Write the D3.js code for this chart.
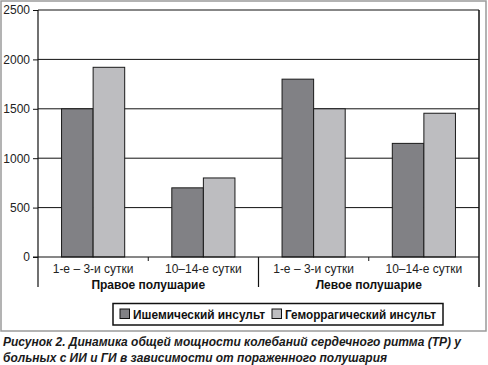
<!DOCTYPE html>
<html><head><meta charset="utf-8">
<script src="https://cdn.jsdelivr.net/npm/d3@7"></script>
<style>
body{margin:0;background:#fff;}
text{font-family:"Liberation Sans",Arial,sans-serif;}
</style></head>
<body><svg id="c" width="488" height="365"></svg>
<script>
const categories = ["1-е – 3-и сутки","10–14-е сутки","1-е – 3-и сутки","10–14-е сутки"];
const groups = ["Правое полушарие","Левое полушарие"];
const seriesNames = ["Ишемический инсульт","Геморрагический инсульт"];
const ischemic = [1500, 700, 1800, 1150];
const hemorrhagic = [1920, 800, 1500, 1455];
const yTicks = [0, 500, 1000, 1500, 2000, 2500];
const captionLines = ["Рисунок 2. Динамика общей мощности колебаний сердечного ритма (ТР) у",
                      "больных с ИИ и ГИ в зависимости от пораженного полушария"];

const colors = ["#818185", "#bdbdc0"];
const svg = d3.select("#c");
const L = 38, R = 479, T = 10, B = 257;

// outer border
svg.append("rect").attr("x",1).attr("y",1).attr("width",485).attr("height",330)
  .attr("fill","none").attr("stroke","#9a9a9a").attr("stroke-width",1.5);

const x0 = d3.scaleBand().domain(d3.range(categories.length)).range([L,R]).paddingInner(0).paddingOuter(0);
const x1 = d3.scaleBand().domain([0,1]).range([0,x0.bandwidth()]).paddingOuter(0.746).paddingInner(0);
const y = d3.scaleLinear().domain([0,2500]).range([B,T]);

// gridlines
svg.append("g").selectAll("line").data(yTicks.filter(d=>d>0)).join("line")
  .attr("x1",L).attr("x2",R).attr("y1",d=>y(d)).attr("y2",d=>y(d))
  .attr("stroke","#111").attr("stroke-width",1);
// right border
svg.append("line").attr("x1",R).attr("x2",R).attr("y1",y(2500)).attr("y2",287)
  .attr("stroke","#111").attr("stroke-width",1.5);

// y axis
const yAxis = d3.axisLeft(y).tickValues(yTicks).tickFormat(d3.format("d")).tickSize(5).tickPadding(3);
const ga = svg.append("g").attr("transform",`translate(${L},0)`).call(yAxis);
ga.select(".domain").remove();
ga.selectAll(".tick line").attr("stroke","#111");
ga.selectAll("text").attr("font-size",12).attr("fill","#222").style("font-family","Liberation Sans, Arial, sans-serif");
svg.append("line").attr("x1",L).attr("x2",L).attr("y1",y(2500)).attr("y2",287).attr("stroke","#111").attr("stroke-width",1.2);

// bars
const data = categories.map((c,i)=>({i, vals:[ischemic[i], hemorrhagic[i]]}));
const g = svg.append("g").selectAll("g").data(data).join("g")
  .attr("transform",d=>`translate(${x0(d.i)},0)`);
g.selectAll("rect").data(d=>d.vals.map((v,k)=>({v,k}))).join("rect")
  .attr("x",d=>x1(d.k)).attr("width",x1.bandwidth())
  .attr("y",d=>y(d.v)).attr("height",d=>B-y(d.v))
  .attr("fill",d=>colors[d.k]).attr("stroke","#1a1a1a").attr("stroke-width",1);

// x axis line
svg.append("line").attr("x1",L-5).attr("x2",R).attr("y1",B).attr("y2",B).attr("stroke","#111").attr("stroke-width",1.2);
// inner category ticks
[1,3].forEach(i=>{
  svg.append("line").attr("x1",x0(i)).attr("x2",x0(i)).attr("y1",B).attr("y2",B+4).attr("stroke","#111");
});
// group separator
svg.append("line").attr("x1",x0(2)).attr("x2",x0(2)).attr("y1",B).attr("y2",287).attr("stroke","#111").attr("stroke-width",1.2);

// category labels
svg.append("g").selectAll("text").data(categories).join("text")
  .attr("x",(d,i)=>x0(i)+x0.bandwidth()/2).attr("y",273)
  .attr("text-anchor","middle").attr("font-size",12).attr("fill","#222").text(d=>d);
// group labels
svg.append("g").selectAll("text").data(groups).join("text")
  .attr("x",(d,i)=>x0(i*2)+x0.bandwidth()).attr("y",289)
  .attr("text-anchor","middle").attr("font-size",12).attr("font-weight","bold").attr("fill","#111").text(d=>d);

// legend
const lg = svg.append("g");
lg.append("rect").attr("x",113).attr("y",303.5).attr("width",330).attr("height",21.5)
  .attr("fill","#fff").attr("stroke","#111").attr("stroke-width",1.5);
const lx = [120, 272];
const lw = [132, 151];
seriesNames.forEach((n,k)=>{
  lg.append("rect").attr("x",lx[k]).attr("y",309).attr("width",9.5).attr("height",9.5)
    .attr("fill",colors[k]).attr("stroke","#111").attr("stroke-width",1);
  lg.append("text").attr("x",lx[k]+13).attr("y",318.5).attr("font-size",12.5).attr("font-weight","bold")
    .attr("textLength",lw[k]).attr("lengthAdjust","spacingAndGlyphs")
    .attr("fill","#111").text(n);
});

// caption
const cw = [458, 384];
svg.append("g").selectAll("text").data(captionLines).join("text")
  .attr("x",3).attr("y",(d,i)=>346+i*16)
  .attr("font-size",12.5).attr("font-weight","bold").attr("font-style","italic").attr("fill","#1a1a1a")
  .attr("textLength",(d,i)=>cw[i]).attr("lengthAdjust","spacingAndGlyphs")
  .text(d=>d);
</script></body></html>
